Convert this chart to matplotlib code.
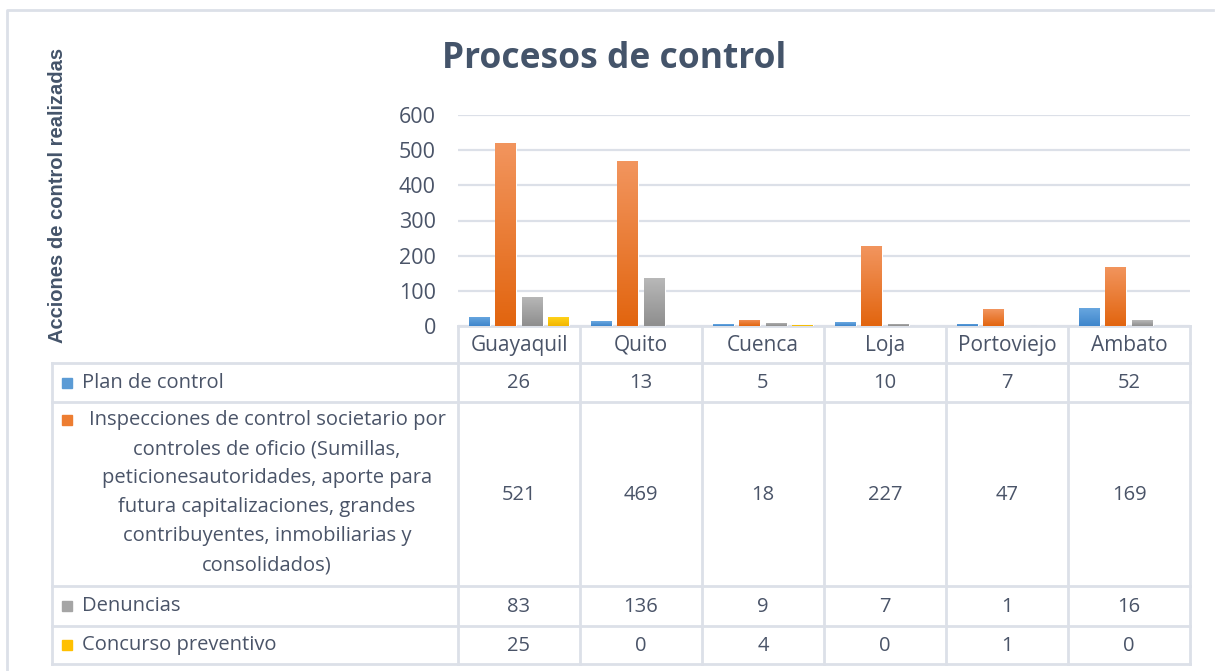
import numpy as np
import matplotlib.pyplot as plt
from matplotlib.colors import LinearSegmentedColormap

# data
ciudades = ['Guayaquil', 'Quito', 'Cuenca', 'Loja', 'Portoviejo', 'Ambato']
series = ['Plan de control',
          'Inspecciones de control societario por\ncontroles de oficio (Sumillas,\npeticionesautoridades, aporte para\nfutura capitalizaciones, grandes\ncontribuyentes, inmobiliarias y\nconsolidados)',
          'Denuncias',
          'Concurso preventivo']
plan = [26, 13, 5, 10, 7, 52]
inspecciones = [521, 469, 18, 227, 47, 169]
denuncias = [83, 136, 9, 7, 1, 16]
concurso = [25, 0, 4, 0, 1, 0]
valores = [plan, inspecciones, denuncias, concurso]
yticks = [0, 100, 200, 300, 400, 500, 600]

# colours (top, bottom of the gradient)
colores = [('#6AA8E0', '#3F86CC'), ('#F2955E', '#E2650F'),
           ('#B8B8B8', '#8E8E8E'), ('#FFD21A', '#F2B600')]
solidos = ['#5B9BD5', '#ED7D31', '#A5A5A5', '#FFC000']
txt_col = '#4A5468'
line_col = '#DCE0E8'
fs = 14.5

W, H = 1215, 671
fig = plt.figure(figsize=(W / 100, H / 100), dpi=100)

def px(x0, y0, x1, y1):
    return [x0 / W, 1 - y1 / H, (x1 - x0) / W, (y1 - y0) / H]

# overlay axes in pixel coordinates for frame, titles and data table
ov = fig.add_axes([0, 0, 1, 1], zorder=0)
ov.set_xlim(0, W)
ov.set_ylim(H, 0)
ov.axis('off')

# outer frame of the chart
ov.plot([7, 7, 1213], [700, 10, 10], color=line_col, lw=2)

ov.text(614, 59, 'Procesos de control', ha='center', va='center',
        fontsize=25.5, fontweight='bold', color='#44546A', family='Open Sans')
ov.text(58, 195, 'Acciones de control realizadas', ha='center', va='center',
        rotation=90, fontsize=14.5, fontweight='bold', color='#44546A',
        family='Liberation Sans')

# plot area
x_left, x_right = 458, 1190
y_top, y_zero = 115, 326
ax = fig.add_axes(px(x_left, y_top, x_right, y_zero), zorder=2)
ax.patch.set_alpha(0)
n = len(ciudades)
x = np.arange(n)
ancho = 0.172
paso = 0.215
ax.set_xlim(-0.5, n - 0.5)
ax.set_ylim(0, 600)
ax.set_yticks(yticks)
ax.set_yticklabels([str(t) for t in yticks], fontsize=15.5, color=txt_col,
                   family='Open Sans')
ax.tick_params(axis='y', length=0, pad=16)
ax.set_xticks([])
for s in ax.spines.values():
    s.set_visible(False)
ax.grid(axis='y', color=line_col, lw=1.6)
ax.set_axisbelow(True)

for i, vals in enumerate(valores):
    off = (i - 1.5) * paso
    bars = ax.bar(x + off, vals, ancho, color=solidos[i], edgecolor='white',
                  lw=0.8, zorder=3)
    cmap = LinearSegmentedColormap.from_list('g%d' % i, [colores[i][1], colores[i][0]])
    grad = np.linspace(0, 1, 100).reshape(-1, 1)
    for b, v in zip(bars, vals):
        if v <= 0:
            continue
        im = ax.imshow(grad, extent=[b.get_x(), b.get_x() + b.get_width(), 0, v],
                       origin='lower', aspect='auto', cmap=cmap, zorder=3.5)
        im.set_clip_path(b)
ax.set_xlim(-0.5, n - 0.5)
ax.set_ylim(0, 600)

# data table
col_w = (x_right - x_left) / n
bordes = [x_left + k * col_w for k in range(n + 1)]
filas = [326, 363, 402, 586, 626, 664]
tab_left = 52

ov.plot([x_left, x_right], [filas[0], filas[0]], color=line_col, lw=2)
for y in filas[1:]:
    ov.plot([tab_left, x_right], [y, y], color=line_col, lw=2)
ov.plot([tab_left, tab_left], [filas[1], filas[-1]], color=line_col, lw=2)
for xb in bordes:
    ov.plot([xb, xb], [filas[0], filas[-1]], color=line_col, lw=2)

for k, c in enumerate(ciudades):
    ov.text((bordes[k] + bordes[k + 1]) / 2, (filas[0] + filas[1]) / 2 + 1, c,
            ha='center', va='center', fontsize=fs + 0.5, color=txt_col, family='Open Sans')

for i, nombre in enumerate(series):
    y0, y1 = filas[i + 1], filas[i + 2]
    yc = (y0 + y1) / 2
    lineas = nombre.split('\n')
    if len(lineas) > 1:
        for j, linea in enumerate(lineas):
            ov.text(267, y0 + 18 + 29 * j, linea, ha='center', va='center',
                    fontsize=fs, color=txt_col, family='Open Sans')
        ym = y0 + 18
    else:
        ov.text(82, yc, nombre, ha='left', va='center', fontsize=fs,
                color=txt_col, family='Open Sans')
        ym = yc
    ov.add_patch(plt.Rectangle((62, ym - 5), 10, 10, color=solidos[i]))
    for k, v in enumerate(valores[i]):
        ov.text((bordes[k] + bordes[k + 1]) / 2, yc + 1, str(v), ha='center',
                va='center', fontsize=fs, color=txt_col, family='Open Sans')

fig.savefig('out.png', dpi=100)
